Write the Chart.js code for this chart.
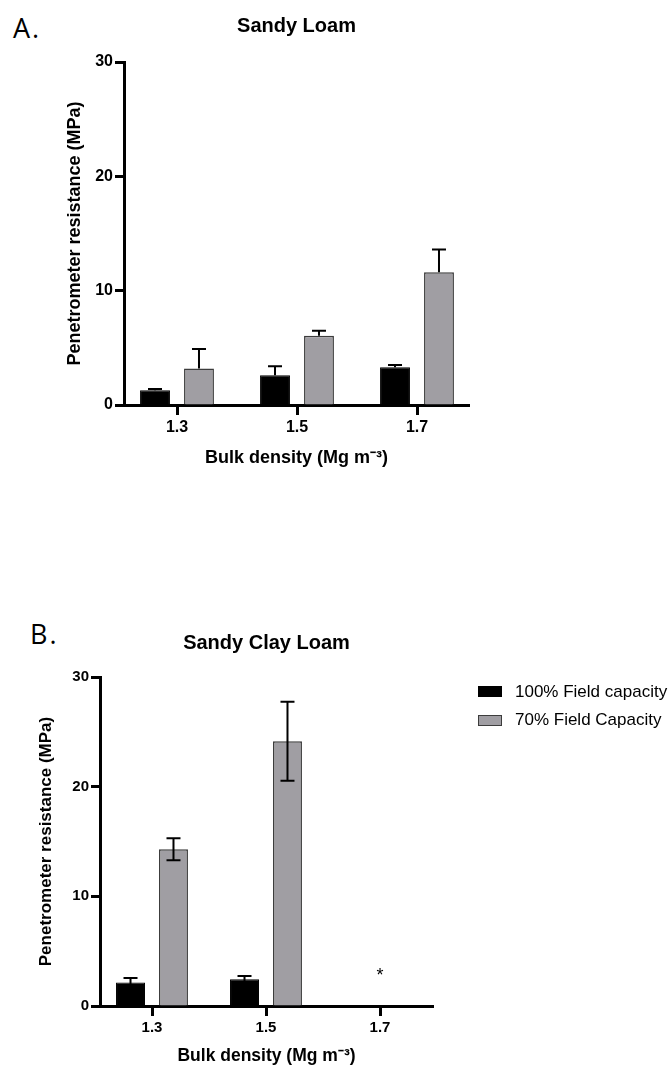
<!DOCTYPE html>
<html>
<head>
<meta charset="utf-8">
<script src="https://cdn.jsdelivr.net/npm/chart.js@4.4.1/dist/chart.umd.min.js"></script>
<style>
  body { margin: 0; width: 671px; height: 1065px; overflow: hidden; background: #fff; font-family: 'Liberation Sans', Arial, sans-serif; color: #000; }
  canvas { position: absolute; left: 0; }
  .panel { position: absolute; font-family: 'Open Sans', sans-serif; font-size: 27px; line-height: 27px; letter-spacing: 2px; }
  .item { position: absolute; left: 478px; font-size: 17px; line-height: 20px; white-space: nowrap; }
  .box { position: absolute; left: 0; top: 4.5px; width: 24px; height: 11px; box-sizing: border-box; }
  .item span { position: absolute; left: 37px; top: 0; }
</style>
</head>
<body>
<div class="panel" style="left:13px; top:13.5px">A.</div>
<div class="panel" style="left:30px; top:620px">B.</div>
<canvas id="chartA" width="671" height="480" style="top:0"></canvas>
<canvas id="chartB" width="671" height="465" style="top:600px"></canvas>
<div id="legendB"></div>
<script>
// categories (bulk density, Mg m-3)
var densities = [1.3, 1.5, 1.7];
var seriesNames = ['100% Field capacity', '70% Field Capacity'];
var yTicks = [0, 10, 20, 30];

// A. Sandy Loam
var loam100 = [1.3, 2.6, 3.3];
var loam100Err = [0.1, 0.8, 0.2];
var loam70 = [3.2, 6.05, 11.6];
var loam70Err = [1.7, 0.45, 2.0];

// B. Sandy Clay Loam (no data at 1.7)
var clay100 = [2.15, 2.45, null];
var clay100Err = [0.4, 0.28, null];
var clay70 = [14.3, 24.15, null];
var clay70Err = [1.0, 3.6, null];
var clayMarks = ['', '', '*'];

var black = '#000';
var gray = 'rgb(160,158,163)';
var grayLine = '#3c3c3c';

Chart.defaults.font.family = "'Liberation Sans', Arial, sans-serif";
Chart.defaults.color = '#000';

function points(values) {
  return densities.map(function (d, i) { return { x: d, y: values[i] }; });
}

// error bars drawn over the bars
var errorBars = {
  id: 'errorBars',
  afterDatasetsDraw: function (chart, args, opts) {
    var ctx = chart.ctx;
    var y = chart.scales.y;
    ctx.save();
    ctx.strokeStyle = '#000';
    ctx.lineWidth = 2;
    chart.data.datasets.forEach(function (ds, i) {
      chart.getDatasetMeta(i).data.forEach(function (bar, j) {
        var v = ds.data[j].y, e = ds.errors[j];
        if (v == null || e == null) return;
        var top = y.getPixelForValue(v + e);
        var bottom = opts.both ? y.getPixelForValue(v - e) : bar.y;
        ctx.beginPath();
        ctx.moveTo(bar.x, bottom);
        ctx.lineTo(bar.x, top);
        ctx.moveTo(bar.x - 7, top);
        ctx.lineTo(bar.x + 7, top);
        if (opts.both) {
          ctx.moveTo(bar.x - 7, bottom);
          ctx.lineTo(bar.x + 7, bottom);
        }
        ctx.stroke();
      });
    });
    ctx.restore();
  }
};

// "*" where a value is missing
var marks = {
  id: 'marks',
  afterDatasetsDraw: function (chart, args, opts) {
    if (!opts.labels) return;
    var ctx = chart.ctx;
    ctx.save();
    ctx.fillStyle = '#000';
    ctx.font = "18px 'Liberation Sans', Arial, sans-serif";
    ctx.textAlign = 'center';
    ctx.textBaseline = 'alphabetic';
    opts.labels.forEach(function (t, i) {
      if (!t) return;
      var px = chart.scales.x.getPixelForValue(densities[i]);
      var py = chart.scales.y.getPixelForValue(opts.value);
      ctx.fillText(t, px, py + 10);
    });
    ctx.restore();
  }
};

function makeChart(id, s) {
  return new Chart(document.getElementById(id), {
    type: 'bar',
    data: {
      datasets: [
        { label: seriesNames[0], data: points(s.a), errors: s.aErr, backgroundColor: black, borderColor: black, borderWidth: 1 },
        { label: seriesNames[1], data: points(s.b), errors: s.bErr, backgroundColor: gray, borderColor: grayLine, borderWidth: 1.5 }
      ]
    },
    options: {
      responsive: false,
      animation: false,
      datasets: { bar: { categoryPercentage: s.catPct, barPercentage: s.barPct } },
      layout: { padding: { left: 0, right: s.padRight, top: s.padTop, bottom: 0 } },
      scales: {
        x: {
          type: 'linear',
          min: s.xMin,
          max: s.xMax,
          offset: false,
          afterBuildTicks: function (sc) { sc.ticks = densities.map(function (v) { return { value: v }; }); },
          ticks: { callback: function (v) { return v.toFixed(1); }, font: { size: s.tickSize, weight: 'bold' }, color: '#000', padding: 3, maxRotation: 0 },
          grid: { display: true, drawOnChartArea: false, drawTicks: true, tickLength: 10, tickWidth: 3, tickColor: '#000', offset: false },
          border: { display: true, color: '#000', width: 3 },
          title: { display: true, text: 'Bulk density (Mg m⁻³)', font: { size: s.xTitleSize, weight: 'bold', lineHeight: 1 }, color: '#000', padding: { top: 0, bottom: s.xTitlePad } },
          afterFit: function (sc) { sc.height = s.xHeight; }
        },
        y: {
          min: 0,
          max: 30,
          afterBuildTicks: function (sc) { sc.ticks = yTicks.map(function (v) { return { value: v }; }); },
          ticks: { font: { size: s.tickSize, weight: 'bold' }, color: '#000', padding: 2 },
          grid: { display: true, drawOnChartArea: false, drawTicks: true, tickLength: 9, tickWidth: 3, tickColor: '#000' },
          border: { display: true, color: '#000', width: 3 },
          title: { display: true, text: 'Penetrometer resistance (MPa)', font: { size: s.yTitleSize, weight: 'bold', lineHeight: 1 }, color: '#000', padding: { top: s.yTitlePad, bottom: 0 } },
          afterFit: function (sc) { sc.width = s.yWidth; }
        }
      },
      plugins: {
        legend: { display: false },
        tooltip: { enabled: false },
        title: { display: true, text: s.title, fullSize: false, font: { size: 20, weight: 'bold', lineHeight: 1.2 }, color: '#000', padding: { top: 0, bottom: s.titlePad } },
        errorBars: { both: s.both },
        marks: { labels: s.marks, value: 3.2 }
      }
    },
    plugins: [errorBars, marks]
  });
}

makeChart('chartA', {
  a: loam100, aErr: loam100Err, b: loam70, bErr: loam70Err,
  title: 'Sandy Loam', both: false, marks: null,
  catPct: 0.733, barPct: 0.68,
  padRight: 202, padTop: 14.5, titlePad: 23.5,
  xMin: 1.3 - 53 / 600, xMax: 1.7 + 52 / 600, xHeight: 75, xTitleSize: 18, xTitlePad: 13,
  yWidth: 124, yTitleSize: 18, yTitlePad: 66, tickSize: 16
});

makeChart('chartB', {
  a: clay100, aErr: clay100Err, b: clay70, bErr: clay70Err,
  title: 'Sandy Clay Loam', both: true, marks: clayMarks,
  catPct: 0.754, barPct: 0.674,
  padRight: 238, padTop: 31.5, titlePad: 21.5,
  xMin: 1.3 - 52 / 570, xMax: 1.7 + 53 / 570, xHeight: 59, xTitleSize: 17.5, xTitlePad: 0,
  yWidth: 100, yTitleSize: 17, yTitlePad: 37.5, tickSize: 15
});

// legend for panel B
var legendTops = [681.7, 710.2];
var legendFills = [[black, black], [gray, grayLine]];
var legend = document.getElementById('legendB');
seriesNames.forEach(function (name, i) {
  var item = document.createElement('div');
  item.className = 'item';
  item.style.top = legendTops[i] + 'px';
  item.innerHTML = '<div class="box" style="background:' + legendFills[i][0] + ';border:1px solid ' + legendFills[i][1] + '"></div><span>' + name + '</span>';
  legend.appendChild(item);
});
</script>
</body>
</html>
